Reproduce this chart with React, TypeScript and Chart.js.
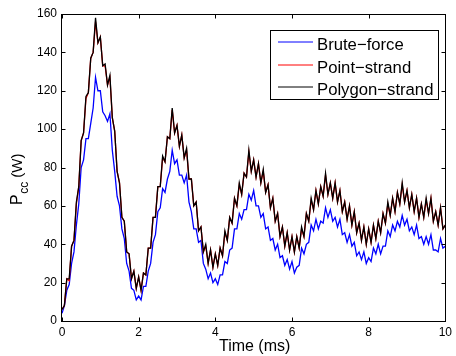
import React, { useEffect, useRef } from "react";
import { Chart, registerables } from "chart.js";

Chart.register(...registerables);

// sampling step of the traces (ms)
const timeStep = 0.0625;
const xTickValues = [0, 2, 4, 6, 8, 10];
const yTickValues = [0, 20, 40, 60, 80, 100, 120, 140, 160];
const seriesLabels = ["Brute\u2212force", "Point\u2212strand", "Polygon\u2212strand"];
const seriesColors = ["#0000ff", "#ff0000", "#000000"];

const bruteForce = [
  4, 8, 16, 19, 30, 36, 50, 61, 80, 84,
  95, 95, 103, 111, 127, 120, 120, 109, 107, 104,
  108, 89, 78, 65, 60, 48, 43, 30, 26, 17,
  16, 11, 13, 11, 18, 18, 26, 30, 41, 45,
  57, 59, 69, 67, 74, 78, 89, 82, 84, 76,
  76, 72, 76, 62, 57, 48, 48, 41, 42, 30,
  27, 22, 25, 20, 22, 19, 24, 24, 31, 30,
  37, 38, 48, 48, 56, 53, 58, 58, 66, 63,
  68, 60, 60, 54, 56, 48, 49, 42, 43, 37,
  40, 33, 34, 29, 32, 27, 31, 25, 28, 29,
  38, 35, 40, 41, 50, 47, 53, 48, 52, 51,
  59, 54, 58, 52, 54, 49, 53, 45, 46, 41,
  45, 39, 41, 34, 36, 32, 36, 30, 33, 31,
  38, 35, 40, 35, 39, 39, 47, 44, 50, 47,
  52, 49, 55, 50, 53, 47, 49, 45, 50, 43,
  44, 40, 44, 40, 45, 37, 37, 36, 43, 38,
  39,
];

const pointStrand = [
  6, 8, 22, 21, 39, 42, 61, 70, 94, 98,
  116, 119, 137, 140, 156, 145, 148, 133, 133, 123,
  127, 106, 99, 78, 72, 54, 52, 36, 35, 22,
  26, 17, 23, 16, 25, 24, 38, 38, 54, 54,
  70, 70, 85, 83, 96, 95, 110, 98, 102, 91,
  97, 85, 89, 74, 74, 60, 62, 47, 49, 36,
  39, 30, 37, 28, 35, 29, 38, 34, 46, 42,
  54, 51, 64, 60, 71, 66, 77, 75, 88, 78,
  84, 75, 82, 72, 78, 67, 71, 59, 64, 52,
  56, 44, 49, 39, 46, 37, 44, 36, 44, 38,
  48, 44, 56, 52, 63, 58, 68, 61, 70, 65,
  76, 66, 72, 64, 72, 62, 68, 57, 62, 53,
  60, 50, 57, 46, 51, 42, 49, 40, 48, 41,
  50, 43, 52, 46, 56, 51, 61, 55, 64, 57,
  67, 61, 71, 62, 68, 59, 66, 57, 64, 54,
  61, 54, 63, 56, 64, 52, 57, 50, 59, 48,
  50,
];

const polygonStrand = [
  6, 8, 22, 22, 39, 42, 62, 70, 94, 98,
  117, 119, 137, 140, 158, 145, 148, 133, 134, 123,
  128, 106, 99, 78, 72, 54, 52, 36, 35, 22,
  26, 17, 23, 16, 25, 24, 38, 38, 54, 54,
  70, 70, 86, 83, 96, 95, 111, 98, 102, 91,
  97, 85, 90, 74, 74, 60, 62, 47, 49, 36,
  40, 30, 37, 28, 35, 29, 38, 34, 47, 42,
  54, 51, 64, 60, 72, 66, 77, 75, 89, 78,
  84, 75, 82, 72, 79, 67, 71, 59, 64, 52,
  56, 44, 49, 39, 46, 37, 44, 36, 44, 38,
  49, 44, 56, 52, 64, 58, 68, 61, 70, 65,
  77, 66, 72, 64, 72, 62, 68, 57, 62, 53,
  60, 50, 57, 46, 51, 42, 49, 40, 48, 41,
  50, 43, 52, 46, 56, 51, 62, 55, 64, 57,
  67, 61, 72, 62, 68, 59, 66, 57, 64, 54,
  61, 54, 64, 56, 64, 52, 57, 50, 59, 48,
  50,
];

const FONT = "'Liberation Sans', Arial, Helvetica, sans-serif";

const toPoints = (vals: number[]) => vals.map((v, i) => ({ x: i * timeStep, y: v }));

const framePlugin = {
  id: "matlabFrame",
  afterDraw(chart: any) {
    const { ctx, chartArea, scales } = chart;
    const { left, top, right, bottom } = chartArea;
    const xs = scales.x;
    const ys = scales.y;
    ctx.save();
    ctx.strokeStyle = "#000";
    ctx.lineWidth = 1;
    const L = Math.round(left) - 0.5;
    const R = Math.round(right) + 0.5;
    const T = Math.round(top) + 0.5;
    const B = Math.round(bottom) + 0.5;
    ctx.strokeRect(L, T, R - L, B - T);
    const tl = 4;
    ctx.beginPath();
    xTickValues.forEach((v) => {
      const px = Math.round(xs.getPixelForValue(v)) + 0.5;
      ctx.moveTo(px, B);
      ctx.lineTo(px, B - tl);
      ctx.moveTo(px, T);
      ctx.lineTo(px, T + tl);
    });
    yTickValues.forEach((v) => {
      const py = Math.round(ys.getPixelForValue(v)) + 0.5;
      ctx.moveTo(L, py);
      ctx.lineTo(L + tl, py);
      ctx.moveTo(R, py);
      ctx.lineTo(R - tl, py);
    });
    ctx.stroke();

    // x-axis title
    ctx.fillStyle = "#000";
    ctx.font = `16px ${FONT}`;
    ctx.textAlign = "center";
    ctx.textBaseline = "alphabetic";
    ctx.fillText("Time (ms)", (left + right) / 2 + 1, 351);

    // y-axis title with subscript
    ctx.save();
    ctx.translate(22, 205);
    ctx.rotate(-Math.PI / 2);
    ctx.textAlign = "left";
    ctx.font = `16px ${FONT}`;
    ctx.fillText("P", 0, 0);
    const wP = ctx.measureText("P").width;
    ctx.font = `12px ${FONT}`;
    ctx.fillText("cc", wP + 0.5, 6);
    const wcc = ctx.measureText("cc").width;
    ctx.font = `15px ${FONT}`;
    ctx.fillText(" (W)", wP + 0.5 + wcc, 0);
    ctx.restore();

    // legend
    const bx = 270.5, by = 30.5, bw = 168, bh = 69;
    ctx.fillStyle = "#fff";
    ctx.fillRect(bx, by, bw, bh);
    ctx.strokeStyle = "#000";
    ctx.lineWidth = 1;
    ctx.strokeRect(bx, by, bw, bh);
    const rows = [42, 65, 87];
    ctx.font = `16.7px ${FONT}`;
    ctx.textAlign = "left";
    ctx.textBaseline = "alphabetic";
    seriesLabels.forEach((lab, i) => {
      ctx.strokeStyle = seriesColors[i];
      ctx.lineWidth = 1;
      ctx.beginPath();
      ctx.moveTo(278, rows[i]);
      ctx.lineTo(313, rows[i]);
      ctx.stroke();
      ctx.fillStyle = "#000";
      ctx.fillText(lab, 317, rows[i] + 7.5);
    });
    ctx.restore();
  },
};

export default function App() {
  const canvasRef = useRef<HTMLCanvasElement | null>(null);

  useEffect(() => {
    if (!canvasRef.current) return;
    const mk = (i: number, vals: number[], order: number) => ({
      label: seriesLabels[i],
      data: toPoints(vals),
      borderColor: seriesColors[i],
      backgroundColor: seriesColors[i],
      borderWidth: 1.3,
      pointRadius: 0,
      tension: 0,
      fill: false,
      order,
    });
    const chart = new Chart(canvasRef.current, {
      type: "line",
      data: {
        datasets: [mk(0, bruteForce, 2), mk(1, pointStrand, 1), mk(2, polygonStrand, 0)],
      },
      options: {
        animation: false,
        responsive: false,
        maintainAspectRatio: false,
        events: [],
        layout: { padding: { top: 14, right: 5, left: 0, bottom: 0 } },
        plugins: { legend: { display: false }, tooltip: { enabled: false } },
        scales: {
          x: {
            type: "linear",
            min: 0,
            max: 10,
            afterBuildTicks: (s: any) => {
              s.ticks = xTickValues.map((v) => ({ value: v }));
            },
            afterFit: (s: any) => {
              s.height = 35;
            },
            grid: { display: false, drawTicks: false },
            border: { display: false },
            ticks: {
              color: "#000",
              font: { family: FONT, size: 12 },
              padding: 4,
              maxRotation: 0,
              autoSkip: false,
            },
          },
          y: {
            type: "linear",
            min: 0,
            max: 160,
            afterBuildTicks: (s: any) => {
              s.ticks = yTickValues.map((v) => ({ value: v }));
            },
            afterFit: (s: any) => {
              s.width = 62;
            },
            grid: { display: false, drawTicks: false },
            border: { display: false },
            ticks: {
              color: "#000",
              font: { family: FONT, size: 12 },
              padding: 5,
              autoSkip: false,
            },
          },
        },
      },
      plugins: [framePlugin],
    });
    return () => chart.destroy();
  }, []);

  return (
    <div style={{ position: "fixed", left: 0, top: 0, width: 456, height: 356, background: "#fff" }}>
      <canvas ref={canvasRef} width={456} height={356} style={{ width: 456, height: 356 }} />
    </div>
  );
}
